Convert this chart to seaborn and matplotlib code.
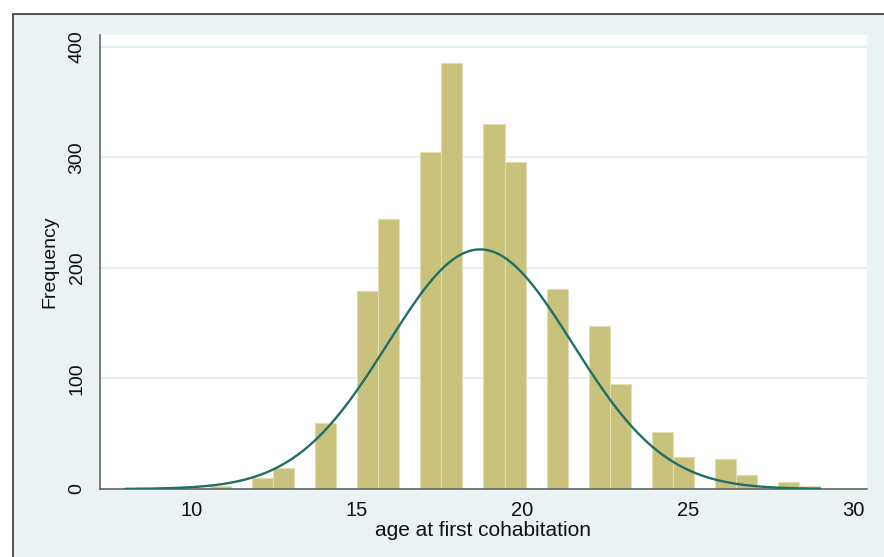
import numpy as np
import pandas as pd
import matplotlib
matplotlib.use("Agg")
import matplotlib.pyplot as plt
from matplotlib.patches import Rectangle
import seaborn as sns

# counts of respondents by age at first cohabitation
ages = [8, 9, 10, 11, 12, 13, 14, 15, 16, 17, 18, 19, 20, 21, 22, 23, 24, 25, 26, 27, 28, 29]
counts = [1, 0, 0, 3, 10, 19, 60, 179, 244, 305, 385, 330, 296, 181, 147, 95, 52, 29, 27, 13, 6, 3]
y_ticks = [0, 100, 200, 300, 400]
x_ticks = [10, 15, 20, 25, 30]

BG = "#EAF2F3"
BAR = "#C9C27C"
LINE = "#206E66"
AXIS = "#5A5A5A"

df = pd.DataFrame({"age": ages, "n": counts})

# Stata-style default binning: min(sqrt(N), 10*log10(N)) bins over data range
N = df["n"].sum()
nbins = int(min(np.sqrt(N), 10 * np.log10(N)))
edges = np.round(np.linspace(df["age"].min(), df["age"].max(), nbins + 1), 9)
width = edges[1] - edges[0]

# normal density overlay scaled to frequencies
mu = np.average(df["age"], weights=df["n"])
sd = np.sqrt(np.average((df["age"] - mu) ** 2, weights=df["n"]) * N / (N - 1))
xs = np.linspace(df["age"].min(), df["age"].max(), 400)
ys = N * width * np.exp(-0.5 * ((xs - mu) / sd) ** 2) / (sd * np.sqrt(2 * np.pi))

sns.set_style("white")
plt.rcParams["font.family"] = ["Liberation Sans", "DejaVu Sans"]

fig = plt.figure(figsize=(8.84, 5.57), dpi=100, facecolor="white")
fig.patches.append(Rectangle((12.5 / 884, -0.05), 1.1, (557 - 13.5) / 557 + 0.05,
                             transform=fig.transFigure, facecolor=BG,
                             edgecolor="#444444", linewidth=1.3, zorder=-5))
ax = fig.add_axes([100 / 884, (557 - 489) / 557, 766.7 / 884, 454 / 557])
ax.set_facecolor("white")

sns.histplot(data=df, x="age", weights="n", bins=edges.tolist(), ax=ax, color=BAR,
             alpha=1, edgecolor="#E2DDB0", linewidth=0.8, zorder=2)
sns.lineplot(x=xs, y=ys, ax=ax, color=LINE, linewidth=1.7, zorder=3)

ax.set_xlim(7.23, 30.4)
ax.set_ylim(0, 410.6)
ax.set_xticks(x_ticks)
ax.set_yticks(y_ticks)
ax.yaxis.grid(True, color="#E3EDEF", linewidth=1.3, zorder=0)
ax.xaxis.grid(False)
ax.set_axisbelow(True)

for side in ["top", "right"]:
    ax.spines[side].set_visible(False)
for side in ["left", "bottom"]:
    ax.spines[side].set_color(AXIS)
    ax.spines[side].set_linewidth(1.1)

ax.tick_params(axis="both", direction="out", length=6, width=1, color=AXIS,
               labelsize=14, labelcolor="#111111")
ax.tick_params(axis="x", pad=3, labelsize=14.5)
ax.tick_params(axis="y", pad=4.3, labelrotation=90)
for lab in ax.get_yticklabels():
    lab.set_va("center")

ax.set_xlabel("age at first cohabitation", fontsize=15, color="#111111")
ax.set_ylabel("Frequency", fontsize=14, color="#111111")
ax.xaxis.set_label_coords(0.5, -0.071)
ax.yaxis.set_label_coords(-0.0548, 0.5)

fig.savefig("out.png", dpi=100, facecolor=fig.get_facecolor())
